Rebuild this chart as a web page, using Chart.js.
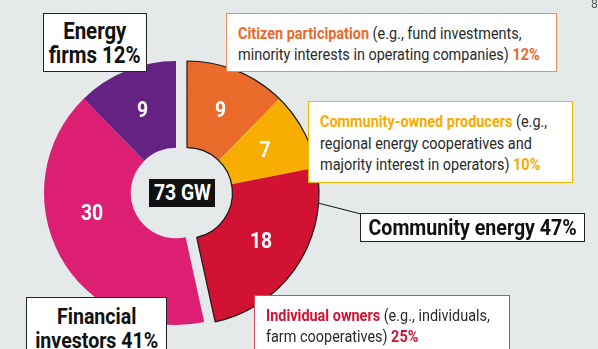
<!DOCTYPE html>
<html>
<head>
<meta charset="utf-8">
<script src="https://cdn.jsdelivr.net/npm/chart.js@4"></script>
<style>
  html, body { margin: 0; padding: 0; }
  body { width: 598px; height: 349px; background: #e6e9ea; position: relative; overflow: hidden;
         font-family: Roboto, "Liberation Sans", sans-serif; }
  canvas { position: absolute; }
  .box { position: absolute; background: #fff; box-sizing: border-box; border: 1.5px solid #222; color: #2a2a2a; }
  .s { display: inline-block; white-space: nowrap; transform-origin: left top; }
  .big { font-weight: bold; color: #111; font-size: 23px; line-height: 24px; display: flex; justify-content: center; align-items: flex-start; text-align: center; }
  .big .s { transform: scaleX(0.87); transform-origin: center top; flex: none; }
  .note { font-size: 16.5px; line-height: 21px; padding: 0 0 0 11px; }
  .note .s { transform: scaleX(0.875); }
  .note b { font-weight: bold; }
  #gw { position: absolute; left: 149px; top: 179px; width: 66px; height: 28px; background: #111; color: #fff;
        font-weight: bold; font-size: 22px; line-height: 28px; display: flex; justify-content: center; }
  #gw .s { transform: scaleX(0.88); transform-origin: center top; flex: none; }
  #page { position: absolute; left: 591px; top: -3px; font-size: 12px; color: #555; }
</style>
</head>
<body>
<canvas id="groupB" width="280" height="280" style="left:36px;top:53px"></canvas>
<canvas id="groupA" width="280" height="280" style="left:47px;top:53px"></canvas>
<canvas id="outline" width="280" height="280" style="left:47px;top:53px"></canvas>

<svg width="598" height="349" style="position:absolute;left:0;top:0">
  <line x1="318" y1="203" x2="361" y2="214" stroke="#111" stroke-width="1"/>
</svg>

<div id="gw"><span class="s">73 GW</span></div>

<div class="box big" style="left:43px;top:13px;width:104px;height:59px;padding-top:5px;font-size:23.5px"><span class="s">Energy<br>firms 12%</span></div>
<div class="box big" style="left:26px;top:297px;width:141px;height:60px;padding-top:6px;font-size:22.5px"><span class="s">Financial<br>investors 41%</span></div>
<div class="box big" style="left:360px;top:213px;width:225px;height:29px;line-height:26px;font-size:22.5px"><span class="s">Community energy 47%</span></div>

<div class="box note" style="left:226px;top:13px;width:331px;height:59px;border-color:#ec8a5a;padding-top:9px"><span class="s">
  <b style="color:#e8692b">Citizen participation</b> (e.g., fund investments,<br>minority interests in operating companies) <b style="color:#e8692b">12%</b></span></div>
<div class="box note" style="left:308px;top:101px;width:265px;height:82px;border-color:#f5b400;padding-top:9px;line-height:21.5px"><span class="s">
  <b style="color:#f5ac00">Community-owned producers</b> (e.g.,<br>regional energy cooperatives and<br>majority interest in operators) <b style="color:#f5ac00">10%</b></span></div>
<div class="box note" style="left:254px;top:295px;width:256px;height:62px;border-color:#d8475c;padding-top:9px"><span class="s">
  <b style="color:#d21232">Individual owners</b> (e.g., individuals,<br>farm cooperatives) <b style="color:#d21232">25%</b></span></div>

<div id="page">8</div>

<script>
// capacity in GW, clockwise from the top
const categories = ['Citizen participation', 'Community-owned producers', 'Individual owners', 'Financial investors', 'Energy firms'];
const values = [9, 7, 18, 30, 9];
const colors = ['#ea6a2a', '#f7ae00', '#d21232', '#dd1f73', '#652282'];
const communityMask = [true, true, true, false, false];

// outline around the community energy group
const groupTotals = [9 + 7 + 18, 30 + 9];

const NONE = 'rgba(0,0,0,0)';

// white value labels in the middle of each slice
const sliceLabels = {
  id: 'sliceLabels',
  afterDatasetsDraw(chart) {
    const ctx = chart.ctx;
    const meta = chart.getDatasetMeta(0);
    const show = chart.options.plugins.sliceLabels.show;
    ctx.save();
    ctx.fillStyle = '#fff';
    ctx.font = 'bold 22px Roboto, "Liberation Sans", sans-serif';
    ctx.textAlign = 'center';
    ctx.textBaseline = 'middle';
    meta.data.forEach((arc, i) => {
      if (!show[i]) return;
      const p = arc.getCenterPoint();
      const dy = i === 3 ? -22 : 0;  // the 30 sits higher in the original
      const dx = i === 3 ? -6 : 0;
      ctx.save();
      ctx.translate(p.x + dx, p.y + dy);
      ctx.scale(0.88, 1);
      ctx.fillText(String(values[i]), 0, 1);
      ctx.restore();
    });
    ctx.restore();
  }
};

function makeGroup(id, mask) {
  return new Chart(document.getElementById(id), {
    type: 'doughnut',
    data: {
      labels: categories,
      datasets: [{
        data: values,
        backgroundColor: colors.map((c, i) => mask[i] ? c : NONE),
        borderWidth: 0
      }]
    },
    options: {
      responsive: false,
      animation: false,
      radius: 132,
      cutout: 48,
      layout: { padding: 0 },
      plugins: { legend: { display: false }, tooltip: { enabled: false }, sliceLabels: { show: mask } }
    },
    plugins: [sliceLabels]
  });
}

makeGroup('groupA', communityMask);
makeGroup('groupB', communityMask.map(m => !m));

new Chart(document.getElementById('outline'), {
  type: 'doughnut',
  data: {
    labels: ['Community energy', 'Other'],
    datasets: [{
      data: groupTotals,
      backgroundColor: [NONE, NONE],
      borderColor: ['#1a1a1a', NONE],
      borderWidth: [1.2, 0]
    }]
  },
  options: {
    responsive: false,
    animation: false,
    radius: 132,
    cutout: 48,
    layout: { padding: 0 },
    plugins: { legend: { display: false }, tooltip: { enabled: false } }
  }
});
</script>
</body>
</html>
